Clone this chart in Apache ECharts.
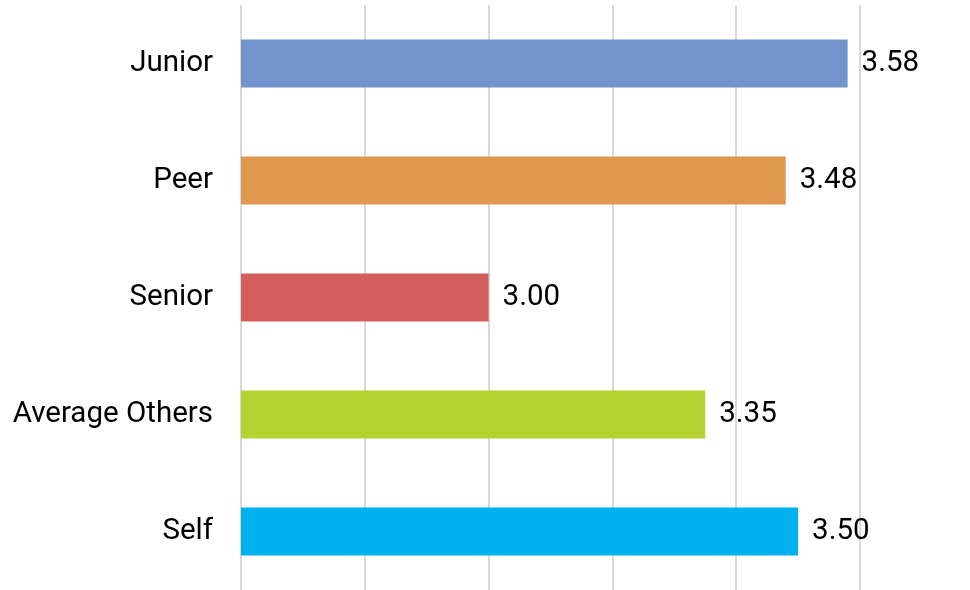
<!DOCTYPE html>
<html>
<head>
<meta charset="utf-8">
<script src="https://cdn.jsdelivr.net/npm/echarts@6/dist/echarts.min.js"></script>
<style>
  html, body { margin: 0; padding: 0; background: #fff; }
  #chart { width: 970px; height: 590px; }
</style>
</head>
<body>
<div id="chart"></div>
<script>
// categories, top to bottom
const categories = ["Junior", "Peer", "Senior", "Average Others", "Self"];
const scores = [3.58, 3.48, 3.00, 3.35, 3.50];
const barColors = ["#7393CC", "#E0974E", "#D45E5E", "#B4D333", "#00B0EF"];

const chart = echarts.init(document.getElementById("chart"));

const option = {
  animation: false,
  grid: {
    left: 241,
    right: 110,
    top: 5,
    bottom: 0,
  },
  xAxis: {
    type: "value",
    min: 2.6,
    max: 3.6,
    interval: 0.2,
    axisLine: { show: false },
    axisTick: { show: false },
    axisLabel: { show: false },
    splitLine: {
      lineStyle: { color: "#D9D9D9", width: 2 },
    },
  },
  yAxis: {
    type: "category",
    data: categories,
    inverse: true,
    axisLine: { show: false },
    axisTick: { show: false },
    axisLabel: {
      color: "#000",
      fontFamily: "Roboto",
      fontSize: 29.5,
      margin: 28,
      padding: [5, 0, 0, 0],
    },
  },
  series: [
    {
      type: "bar",
      barWidth: 48,
      data: scores.map((v, i) => ({
        value: v,
        itemStyle: { color: barColors[i] },
      })),
      label: {
        show: true,
        position: "right",
        distance: 14,
        color: "#000",
        fontFamily: "Roboto",
        fontSize: 29.5,
        padding: [5, 0, 0, 0],
        formatter: (p) => p.value.toFixed(2),
      },
    },
  ],
};

chart.setOption(option);
</script>
</body>
</html>
